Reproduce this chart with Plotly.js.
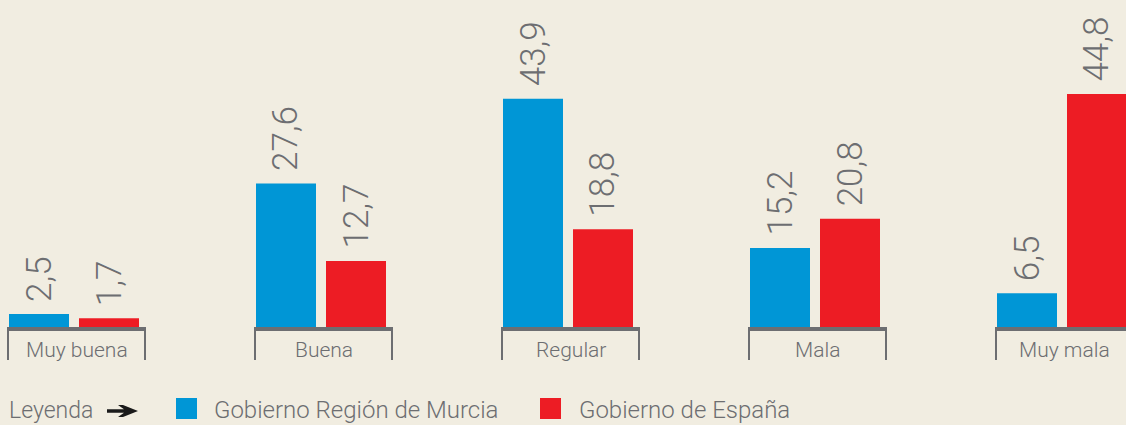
<!DOCTYPE html>
<html><head><meta charset="utf-8">
<script src="https://cdn.plot.ly/plotly-3.0.1.min.js"></script>
<style>html,body{margin:0;padding:0;background:#f1ede1;}#chart{width:1126px;height:425px;}</style>
</head><body><div id="chart"></div>
<script>
const categories = ["Muy buena", "Buena", "Regular", "Mala", "Muy mala"];
const murcia = [2.5, 27.6, 43.9, 15.2, 6.5];
const espana = [1.7, 12.7, 18.8, 20.8, 44.8];
const seriesNames = ["Gobierno Región de Murcia", "Gobierno de España"];
const legendTitle = "Leyenda";

const BG = "#f1ede1", GREY = "#6d6e71", BLUE = "#0096d6", RED = "#ed1c24";
const FONT = "Roboto, Liberation Sans, sans-serif";
const pxPerUnit = 5.2, baseY = 327, H = 425, W = 1126, pitch = 247, firstCenter = 74;
const yr = [-(H - baseY) / pxPerUnit, baseY / pxPerUnit];
const xr = [-firstCenter / pitch, (W - firstCenter) / pitch];
const idx = categories.map((c, i) => i);

const barCommon = {type: "bar", x: idx, showlegend: false, hoverinfo: "skip"};
const traces = [
  Object.assign({}, barCommon, {name: seriesNames[0], y: murcia, marker: {color: BLUE}}),
  Object.assign({}, barCommon, {name: seriesNames[1], y: espana, marker: {color: RED}})
];

const shapes = [], annotations = [];
const fmt = v => v.toFixed(1).replace(".", ",");
[[murcia, -35], [espana, 35]].forEach(([vals, off]) => {
  vals.forEach((v, i) => {
    annotations.push({x: i + off / pitch, y: v, xref: "x", yref: "y", text: fmt(v),
      textangle: -90, showarrow: false, xanchor: "center", yanchor: "bottom", yshift: 10,
      font: {family: FONT, size: 35, color: GREY, weight: 300}});
  });
});

const px = v => v / pxPerUnit;
idx.forEach(i => {
  const x0 = i - 66 / pitch, x1 = i + 71 / pitch;
  shapes.push({type: "path", xref: "x", yref: "y",
    path: `M${x0},${-px(33)} L${x0},${-px(1)} L${x1},${-px(1)} L${x1},${-px(33)}`,
    line: {color: GREY, width: 2}});
  shapes.push({type: "line", xref: "x", yref: "y", x0: x0, x1: x1, y0: -px(2), y1: -px(2),
    line: {color: GREY, width: 4}});
  annotations.push({x: i + 2.5 / pitch, y: -px(23), xref: "x", yref: "y", text: categories[i],
    showarrow: false, xanchor: "center", yanchor: "middle",
    font: {family: FONT, size: 21, color: GREY, weight: 300}});
});

// legend
const legY = 1 - 410 / H;
const P = (x, y) => `${x / W},${1 - y / H}`;
annotations.push({xref: "paper", yref: "paper", x: 7 / W, y: legY, text: legendTitle, showarrow: false,
  xanchor: "left", yanchor: "middle", font: {family: FONT, size: 23, color: GREY, weight: 300}});
shapes.push({type: "path", xref: "paper", yref: "paper", fillcolor: "#1a1a1a", line: {width: 0},
  path: `M${P(107,409.2)} L${P(124,409.2)} L${P(118,405)} L${P(123,405)} L${P(138,411)} L${P(123,417)} L${P(118,417)} L${P(124,412.8)} L${P(107,412.8)} Z`});
const legItems = [{sq: 176, tx: 212, c: BLUE, t: seriesNames[0]}, {sq: 540, tx: 577, c: RED, t: seriesNames[1]}];
legItems.forEach(it => {
  shapes.push({type: "rect", xref: "paper", yref: "paper", x0: it.sq / W, x1: (it.sq + 21) / W,
    y0: 1 - 419 / H, y1: 1 - 398 / H, fillcolor: it.c, line: {width: 0}});
  annotations.push({xref: "paper", yref: "paper", x: it.tx / W, y: legY, text: it.t, showarrow: false,
    xanchor: "left", yanchor: "middle", font: {family: FONT, size: 24, color: GREY, weight: 300}});
});

const layout = {
  width: W, height: H, margin: {l: 0, r: 0, t: 0, b: 0},
  paper_bgcolor: BG, plot_bgcolor: BG,
  barmode: "group", bargap: 1 - 140 / pitch, bargroupgap: 10 / 70,
  xaxis: {range: xr, visible: false, fixedrange: true},
  yaxis: {range: yr, visible: false, fixedrange: true},
  shapes: shapes, annotations: annotations, showlegend: false
};
Plotly.newPlot("chart", traces, layout, {displayModeBar: false, staticPlot: true});
</script></body></html>
